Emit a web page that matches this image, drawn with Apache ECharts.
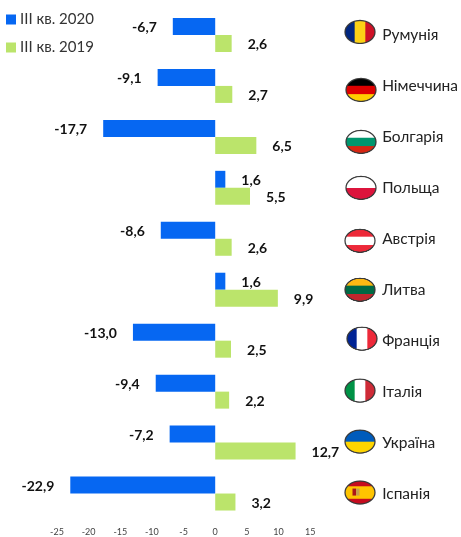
<!DOCTYPE html>
<html>
<head>
<meta charset="utf-8">
<style>html,body{margin:0;padding:0;background:#fff}#chart{width:461px;height:537px}</style>
<script src="https://cdn.jsdelivr.net/npm/echarts@6/dist/echarts.min.js"></script>
</head>
<body>
<div id="chart"></div>
<script>
const countries = ['Румунія', 'Німеччина', 'Болгарія', 'Польща', 'Австрія', 'Литва', 'Франція', 'Італія', 'Україна', 'Іспанія'];
const q3of2020 = [-6.7, -9.1, -17.7, 1.6, -8.6, 1.6, -13.0, -9.4, -7.2, -22.9];
const q3of2019 = [2.6, 2.7, 6.5, 5.5, 2.6, 9.9, 2.5, 2.2, 12.7, 3.2];

// stripes of each flag: direction, then colours with their share of the flag
const flags = [
    ['v', ['#00267f', 1], ['#fcd116', 1], ['#ce1126', 1]],
    ['h', ['#000000', 1], ['#dd0000', 1], ['#ffce00', 1]],
    ['h', ['#ffffff', 1], ['#00966e', 1], ['#d62612', 1]],
    ['h', ['#ffffff', 1], ['#dc143c', 1]],
    ['h', ['#ed2939', 1], ['#ffffff', 1], ['#ed2939', 1]],
    ['h', ['#fdb913', 1], ['#006a44', 1], ['#c1272d', 1]],
    ['v', ['#002395', 1], ['#ffffff', 1], ['#ed2939', 1]],
    ['v', ['#009246', 1], ['#ffffff', 1], ['#ce2b37', 1]],
    ['h', ['#005bbb', 1], ['#ffd500', 1]],
    ['h', ['#c60b1e', 1], ['#ffc400', 2], ['#c60b1e', 1]]
];
// flags sit a little off the rows in the original
const flagShift = [-3, 4, 5, 0, 2, 0, -2, -1, -1, -1];
const flagCenterX = [360, 361, 361, 361, 360, 360, 362, 360, 360, 360];

function drawFlag(flag, isSpain) {
    const w = 64, h = 50;
    const canvas = document.createElement('canvas');
    canvas.width = w;
    canvas.height = h;
    const ctx = canvas.getContext('2d');
    ctx.save();
    ctx.beginPath();
    ctx.ellipse(w / 2, h / 2, w / 2 - 2, h / 2 - 2, 0, 0, Math.PI * 2);
    ctx.clip();
    const stripes = flag.slice(1);
    const total = stripes.reduce((s, c) => s + c[1], 0);
    let pos = 0;
    stripes.forEach(c => {
        ctx.fillStyle = c[0];
        const size = c[1] / total;
        if (flag[0] === 'h') {
            ctx.fillRect(0, pos * h, w, size * h + 1);
        } else {
            ctx.fillRect(pos * w, 0, size * w + 1, h);
        }
        pos += size;
    });
    if (isSpain) {
        ctx.fillStyle = '#ad1519';
        ctx.fillRect(17, 17, 7, 14);
        ctx.fillStyle = '#c8a04a';
        ctx.fillRect(24, 17, 7, 14);
    }
    ctx.restore();
    ctx.beginPath();
    ctx.ellipse(w / 2, h / 2, w / 2 - 2, h / 2 - 2, 0, 0, Math.PI * 2);
    ctx.lineWidth = 2.5;
    ctx.strokeStyle = '#3a3a3a';
    ctx.stroke();
    return canvas;
}

const flagImages = flags.map((f, i) => drawFlag(f, i === 9));

function valueLabel(params) {
    return params.value.toFixed(1).replace('.', ',');
}

const labelStyle = {
    show: true,
    position: 'right',
    distance: 16,
    offset: [0, 1],
    formatter: valueLabel,
    fontFamily: 'Lato, "Noto Sans", sans-serif',
    fontSize: 14,
    fontWeight: 'bold',
    color: '#111'
};

// labels go on the far side of the bar, left for negative values
function barData(values) {
    return values.map(v => ({ value: v, label: { position: v < 0 ? 'left' : 'right' } }));
}

const chart = echarts.init(document.getElementById('chart'));
chart.setOption({
    animation: false,
    textStyle: { fontFamily: 'Lato, "Noto Sans", sans-serif' },
    legend: {
        data: ['III кв. 2020', 'III кв. 2019'],
        orient: 'vertical',
        left: 6,
        top: 12,
        padding: 0,
        itemWidth: 10,
        itemHeight: 10,
        itemGap: 13,
        icon: 'rect',
        textStyle: { fontSize: 15, color: '#333', padding: [0, 0, 0, -1] }
    },
    grid: { left: 57, right: 149.5, top: 9.5, height: 510 },
    xAxis: {
        type: 'value',
        min: -25,
        max: 15,
        interval: 5,
        splitLine: { show: false },
        axisLine: { show: false },
        axisTick: { show: false },
        axisLabel: { fontSize: 9, color: '#444', margin: 9 }
    },
    yAxis: {
        type: 'category',
        data: countries,
        inverse: true,
        position: 'right',
        axisLine: { show: false },
        axisTick: { show: false },
        axisLabel: { fontSize: 15.5, color: '#222', align: 'left', margin: 72 }
    },
    series: [
        {
            name: 'III кв. 2020',
            type: 'bar',
            data: barData(q3of2020),
            barWidth: 17,
            barGap: 0,
            itemStyle: { color: '#0667f2' },
            label: labelStyle
        },
        {
            name: 'III кв. 2019',
            type: 'bar',
            data: barData(q3of2019),
            barWidth: 17,
            itemStyle: { color: '#bbe46b' },
            label: labelStyle
        },
        {
            name: 'flags',
            type: 'custom',
            clip: false,
            silent: true,
            data: countries.map((c, i) => [0, i]),
            encode: { x: 0, y: 1 },
            renderItem: function (params, api) {
                const i = params.dataIndex;
                const y = api.coord([0, i])[1] + flagShift[i];
                return {
                    type: 'image',
                    style: {
                        image: flagImages[i],
                        x: flagCenterX[i] - 16,
                        y: y - 12.5,
                        width: 32,
                        height: 25
                    }
                };
            }
        }
    ]
});
</script>
</body>
</html>
